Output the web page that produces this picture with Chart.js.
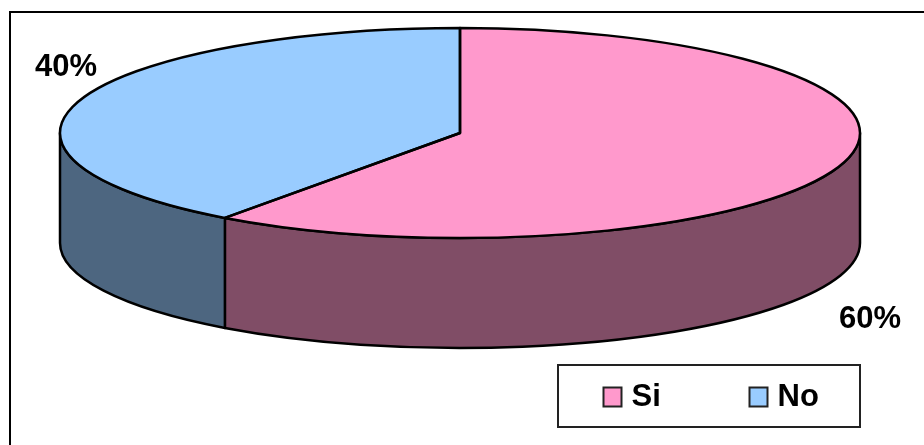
<!DOCTYPE html>
<html>
<head>
<meta charset="utf-8">
<style>
  html, body { margin: 0; padding: 0; background: #ffffff; overflow: hidden; }
  canvas { display: block; }
</style>
<script src="https://cdn.jsdelivr.net/npm/chart.js@4"></script>
</head>
<body>
<canvas id="pieChart" width="924" height="445"></canvas>
<script>
// Chart data
const categories = ['Si', 'No'];
const values = [60, 40];
const topColors = ['#ff99cc', '#99ccff'];
const sideColors = ['#804d66', '#4d6680'];

// Tilted look: library draws a round pie, this stretches it to an ellipse
const stretchedRadius = 400;
const pieDepth = 110;
const outlineWidth = 2.5;

const stretchX = arc => stretchedRadius / arc.outerRadius;

// Path along the pie rim between two canvas angles
const rimPath = (ctx, arc, start, end, yOffset) => {
  ctx.ellipse(arc.x, arc.y + yOffset, stretchedRadius, arc.outerRadius, 0, start, end);
};

const tiltedPie = {
  id: 'tiltedPie',
  beforeDraw(chart) {
    // Only the top and left edge of the frame are in the picture
    const ctx = chart.ctx;
    ctx.save();
    ctx.strokeStyle = '#000000';
    ctx.lineWidth = 2;
    ctx.beginPath();
    ctx.moveTo(10, 445);
    ctx.lineTo(10, 12);
    ctx.lineTo(924, 12);
    ctx.stroke();
    ctx.restore();
  },
  beforeDatasetsDraw(chart) {
    const ctx = chart.ctx;
    const arcs = chart.getDatasetMeta(0).data;

    // Side wall, only the front half of the rim can be seen
    ctx.save();
    ctx.lineWidth = outlineWidth;
    ctx.strokeStyle = '#000000';
    ctx.lineJoin = 'round';
    arcs.forEach((arc, i) => {
      const start = Math.max(arc.startAngle, 0);
      const end = Math.min(arc.endAngle, Math.PI);
      if (end <= start) return;
      ctx.beginPath();
      rimPath(ctx, arc, start, end, 0);
      ctx.lineTo(arc.x + Math.cos(end) * stretchedRadius, arc.y + Math.sin(end) * arc.outerRadius + pieDepth);
      ctx.ellipse(arc.x, arc.y + pieDepth, stretchedRadius, arc.outerRadius, 0, end, start, true);
      ctx.closePath();
      ctx.fillStyle = sideColors[i];
      ctx.fill();
      ctx.stroke();
    });
    ctx.restore();

    // Top face goes through the normal arc drawing, just stretched
    const first = arcs[0];
    ctx.save();
    ctx.translate(first.x, first.y);
    ctx.scale(stretchX(first), 1);
    ctx.translate(-first.x, -first.y);
  },
  afterDatasetsDraw(chart) {
    const ctx = chart.ctx;
    ctx.restore();

    const arcs = chart.getDatasetMeta(0).data;
    ctx.save();
    ctx.lineWidth = outlineWidth;
    ctx.strokeStyle = '#000000';
    ctx.lineJoin = 'round';
    arcs.forEach(arc => {
      ctx.beginPath();
      ctx.moveTo(arc.x, arc.y);
      rimPath(ctx, arc, arc.startAngle, arc.endAngle, 0);
      ctx.closePath();
      ctx.stroke();
    });
    ctx.restore();
  },
  afterDraw(chart) {
    const ctx = chart.ctx;
    ctx.save();
    ctx.fillStyle = '#000000';
    ctx.textBaseline = 'middle';

    // Percent labels
    ctx.font = 'bold 31px "Liberation Sans", Arial, sans-serif';
    ctx.textAlign = 'center';
    ctx.fillText(values[0] + '%', 870, 319);
    ctx.fillText(values[1] + '%', 66, 67);

    // Legend
    ctx.strokeStyle = '#222222';
    ctx.lineWidth = 2;
    ctx.strokeRect(558, 365, 302, 62);
    ctx.textAlign = 'left';
    ctx.font = 'bold 31px "Liberation Sans", Arial, sans-serif';
    const boxX = [603.5, 749.5];
    categories.forEach((name, i) => {
      ctx.fillStyle = topColors[i];
      ctx.fillRect(boxX[i], 387.5, 18, 19);
      ctx.lineWidth = 2;
      ctx.strokeRect(boxX[i], 387.5, 18, 19);
      ctx.fillStyle = '#000000';
      ctx.fillText(name, boxX[i] + 28, 397);
    });
    ctx.restore();
  }
};

const pieCtx = document.getElementById('pieChart').getContext('2d');
const pieChart = new Chart(pieCtx, {
  type: 'pie',
  data: {
    labels: categories,
    datasets: [{
      data: values,
      backgroundColor: topColors,
      borderWidth: 0,
      clip: false
    }]
  },
  options: {
    responsive: false,
    animation: false,
    layout: {
      padding: { top: 28, bottom: 207, left: 0, right: 4 }
    },
    plugins: {
      legend: { display: false },
      tooltip: { enabled: false }
    }
  },
  plugins: [tiltedPie]
});
</script>
</body>
</html>
